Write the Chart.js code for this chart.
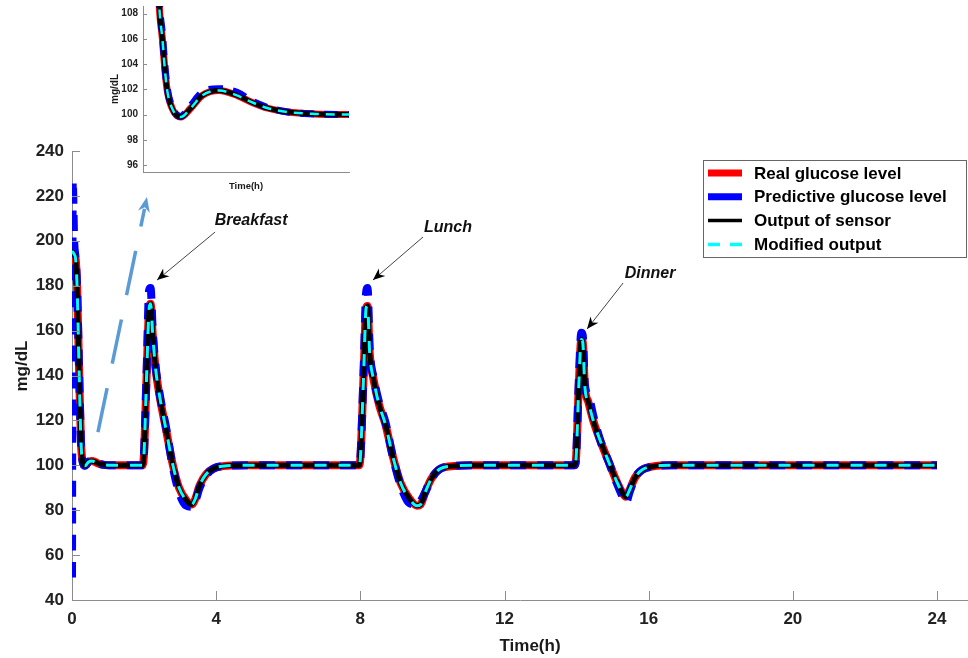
<!DOCTYPE html>
<html>
<head>
<meta charset="utf-8">
<script src="https://cdn.jsdelivr.net/npm/chart.js@4.4.0/dist/chart.umd.min.js"></script>
<style>
    body { margin: 0; background: #fff; }
    #wrap { position: relative; width: 968px; height: 658px; overflow: hidden; }
    #mainChart { position: absolute; left: 0; top: 0; }
    #insetChart { position: absolute; left: 100px; top: -5px; }
</style>
</head>
<body>
<div id="wrap">
    <canvas id="mainChart" width="968" height="658"></canvas>
    <canvas id="insetChart" width="260" height="200"></canvas>
</div>
<script>
// ---- main chart data (time in hours, glucose in mg/dL) ----
const time = [
    0, 0.02, 0.06, 0.1, 0.14, 0.2, 0.25, 0.29, 0.33, 0.36, 0.41, 0.46, 0.55, 0.64, 0.7, 0.79, 0.89, 1.02, 1.3, 1.96,
    2.0, 2.07, 2.14, 2.18, 2.24, 2.32, 2.44, 2.62, 2.8, 2.97, 3.17, 3.32, 3.42, 3.54, 3.72, 3.92, 4.3, 4.9,
    7.96, 8.0, 8.09, 8.16, 8.2, 8.26, 8.37, 8.52, 8.7, 8.9, 9.12, 9.37, 9.57, 9.67, 9.8, 9.97, 10.22, 10.62, 11.1,
    13.94, 13.98, 14.06, 14.13, 14.17, 14.23, 14.33, 14.48, 14.68, 14.88, 15.08, 15.28, 15.37, 15.47, 15.62, 15.82, 16.12, 16.62, 24
];
const realLevel = [
    195, 195, 194, 192, 180, 140, 110, 102, 100, 99.8, 100.5, 101.5, 101.9, 101.5, 101, 100.5, 100.2, 100.05, 100, 100,
    106, 140, 170, 172, 158, 143, 130, 115, 100, 90, 84.5, 82.5, 85, 91, 96, 98.5, 99.8, 100,
    100, 103, 140, 170, 171, 150, 138, 127, 118, 104, 92, 85, 82, 82.5, 88, 94, 98.5, 99.7, 100,
    100, 102, 135, 156, 155, 135, 128, 119, 110, 102, 94, 87.5, 86, 89, 94.5, 98, 99.5, 100, 100
];
const predictive = [
    50, 227, 200, 192, 180, 140, 110, 102, 100, 99.8, 100.6, 101.7, 102.1, 101.7, 101.1, 100.5, 100.2, 100.05, 100, 100,
    106, 142, 178, 179, 160, 144, 131, 116, 99, 88, 82, 81.5, 84, 90, 95.5, 98.5, 99.8, 100,
    100, 103, 142, 177, 179, 152, 139, 128, 119, 104, 91, 83, 82.5, 84, 88, 94, 98.5, 99.7, 100,
    100, 102, 137, 159, 158, 136, 131, 121, 110, 102, 93.5, 86, 83.5, 88, 94.5, 98, 99.5, 100, 100
];
const sensor = [
    195, 195, 194, 192, 180, 140, 110, 102, 100, 99.8, 100.5, 101.5, 101.9, 101.5, 101, 100.5, 100.2, 100.05, 100, 100,
    106, 140, 170, 172, 158, 143, 130, 115, 100, 90, 84.5, 82.5, 85, 91, 96, 98.5, 99.8, 100,
    100, 103, 140, 170, 171, 150, 138, 127, 118, 104, 92, 85, 82, 82.5, 88, 94, 98.5, 99.7, 100,
    100, 102, 135, 156, 155, 135, 128, 119, 110, 102, 94, 87.5, 86, 89, 94.5, 98, 99.5, 100, 100
];
const modified = [
    195, 195, 194, 192, 180, 140, 110, 102, 100, 99.8, 100.5, 101.5, 101.9, 101.5, 101, 100.5, 100.2, 100.05, 100, 100,
    106, 140, 170, 172, 158, 143, 130, 115, 100, 90, 84.5, 82.5, 85, 91, 96, 98.5, 99.8, 100,
    100, 103, 140, 170, 171, 150, 138, 127, 118, 104, 92, 85, 82, 82.5, 88, 94, 98.5, 99.7, 100,
    100, 102, 135, 156, 155, 135, 128, 119, 110, 102, 94, 87.5, 86, 89, 94.5, 98, 99.5, 100, 100
];
const xTicks = [0, 4, 8, 12, 16, 20, 24];
const yTicks = [40, 60, 80, 100, 120, 140, 160, 180, 200, 220, 240];

// ---- inset (zoom on the first hour) ----
const insetTime = [0.2, 0.24, 0.253, 0.266, 0.276, 0.289, 0.314, 0.356, 0.406, 0.462, 0.546, 0.638, 0.705, 0.789, 0.888, 1.02, 1.19];
const insetReal = [140, 112, 108, 106, 104, 102, 100.5, 99.8, 100.5, 101.5, 101.9, 101.5, 101, 100.5, 100.2, 100.05, 100];
const insetPred = [140, 112.5, 108.4, 106.4, 104.3, 102.2, 100.6, 99.85, 100.7, 101.75, 102.05, 101.75, 101.1, 100.55, 100.2, 100.05, 100];
const insetSensor = [140, 112, 108, 106, 104, 102, 100.5, 99.8, 100.5, 101.5, 101.9, 101.5, 101, 100.5, 100.2, 100.05, 100];
const insetModified = [140, 112, 108, 106, 104, 102, 100.5, 99.8, 100.5, 101.5, 101.9, 101.5, 101, 100.5, 100.2, 100.05, 100];
const insetYTicks = [96, 98, 100, 102, 104, 106, 108];

const FONT = '"Liberation Sans", Arial, sans-serif';
const pts = (xs, ys) => xs.map((t, i) => ({ x: t, y: ys[i] }));

function arrowHead(ctx, x1, y1, x2, y2, len, half, color) {
    const a = Math.atan2(y2 - y1, x2 - x1);
    ctx.save();
    ctx.translate(x2, y2);
    ctx.rotate(a);
    ctx.beginPath();
    ctx.moveTo(0, 0);
    ctx.lineTo(-len, -half);
    ctx.lineTo(-len * 0.7, 0);
    ctx.lineTo(-len, half);
    ctx.closePath();
    ctx.fillStyle = color;
    ctx.fill();
    ctx.restore();
}

// meal labels + arrows (data coordinates)
const meals = [
    { text: 'Breakfast', tx: 4.97, ty: 208.8, ax: 3.97, ay: 203.9, hx: 2.36, hy: 182.5 },
    { text: 'Lunch', tx: 10.43, ty: 205.9, ax: 9.74, ay: 201.7, hx: 8.35, hy: 182.5 },
    { text: 'Dinner', tx: 16.04, ty: 185.2, ax: 15.29, ay: 181.2, hx: 14.29, hy: 160.7 }
];

const mainOverlay = {
    id: 'mainOverlay',
    afterDraw(chart) {
        const { ctx, chartArea: area, scales: { x, y } } = chart;
        ctx.save();

        // inward tick marks
        ctx.strokeStyle = '#8c8c8c';
        ctx.lineWidth = 1;
        ctx.beginPath();
        y.ticks.forEach(t => {
            const py = Math.round(y.getPixelForValue(t.value)) + 0.5;
            ctx.moveTo(area.left, py);
            ctx.lineTo(area.left + 8, py);
        });
        x.ticks.forEach(t => {
            const px = Math.round(x.getPixelForValue(t.value)) + 0.5;
            ctx.moveTo(px, area.bottom);
            ctx.lineTo(px, area.bottom - 9);
        });
        ctx.stroke();

        // axis titles
        ctx.fillStyle = '#1a1a1a';
        ctx.font = 'bold 17px ' + FONT;
        ctx.textAlign = 'center';
        ctx.textBaseline = 'middle';
        ctx.fillText('Time(h)', (area.left + area.right) / 2 + 10, 646);
        ctx.save();
        ctx.translate(22, 366);
        ctx.rotate(-Math.PI / 2);
        ctx.fillText('mg/dL', 0, 0);
        ctx.restore();

        // dashed pointer to the inset
        const bx1 = x.getPixelForValue(0.72), by1 = y.getPixelForValue(114.8);
        const bx2 = x.getPixelForValue(2.08), by2 = y.getPixelForValue(219.5);
        ctx.strokeStyle = '#5b9bd5';
        ctx.lineWidth = 3.5;
        ctx.setLineDash([45, 25]);
        ctx.beginPath();
        ctx.moveTo(bx1, by1);
        ctx.lineTo(bx2 - (bx2 - bx1) * 0.05, by2 - (by2 - by1) * 0.05);
        ctx.stroke();
        ctx.setLineDash([]);
        arrowHead(ctx, bx1, by1, bx2, by2, 15, 6, '#5b9bd5');

        // meal annotations
        ctx.font = 'italic bold 16px ' + FONT;
        meals.forEach(m => {
            const tx = x.getPixelForValue(m.tx), ty = y.getPixelForValue(m.ty);
            const ax = x.getPixelForValue(m.ax), ay = y.getPixelForValue(m.ay);
            const hx = x.getPixelForValue(m.hx), hy = y.getPixelForValue(m.hy);
            ctx.fillStyle = '#111';
            ctx.fillText(m.text, tx, ty);
            ctx.strokeStyle = '#444';
            ctx.lineWidth = 1;
            ctx.beginPath();
            ctx.moveTo(ax, ay);
            ctx.lineTo(hx, hy);
            ctx.stroke();
            arrowHead(ctx, ax, ay, hx, hy, 12, 5, '#000');
        });

        // legend box
        const lx = 703, ly = 160, lw = 263, lh = 97;
        ctx.fillStyle = '#fff';
        ctx.fillRect(lx, ly, lw, lh);
        ctx.strokeStyle = '#666';
        ctx.lineWidth = 1;
        ctx.strokeRect(lx + 0.5, ly + 0.5, lw, lh);
        ctx.font = 'bold 17px ' + FONT;
        ctx.textAlign = 'left';
        chart.data.datasets.forEach((ds, i) => {
            const yy = ly + 13 + i * 23.8;
            ctx.strokeStyle = ds.borderColor;
            ctx.lineWidth = ds.legendWidth;
            ctx.setLineDash(ds.legendDash || []);
            ctx.beginPath();
            ctx.moveTo(lx + 5, yy);
            ctx.lineTo(lx + 39, yy);
            ctx.stroke();
            ctx.setLineDash([]);
            ctx.fillStyle = '#000';
            ctx.fillText(ds.label, lx + 51, yy + 1);
        });
        ctx.restore();
    }
};

const tickFont = { family: FONT, size: 17, weight: 'bold' };

new Chart(document.getElementById('mainChart'), {
    type: 'line',
    data: {
        datasets: [
            { label: 'Real glucose level', data: pts(time, realLevel), borderColor: '#ff0000', borderWidth: 8, order: 4, legendWidth: 7 },
            { label: 'Predictive glucose level', data: pts(time, predictive), borderColor: '#0000ff', borderWidth: 8, borderDash: [16, 11], borderJoinStyle: 'bevel', order: 3, legendWidth: 7 },
            { label: 'Output of sensor', data: pts(time, sensor), borderColor: '#000000', borderWidth: 5, order: 2, legendWidth: 3.5 },
            { label: 'Modified output', data: pts(time, modified), borderColor: '#00ffff', borderWidth: 3, borderDash: [12, 12], order: 1, legendWidth: 3.5, legendDash: [12, 10] }
        ]
    },
    options: {
        responsive: false,
        animation: false,
        devicePixelRatio: 1,
        layout: { padding: { top: 151, right: 0, left: 0, bottom: 0 } },
        elements: {
            point: { radius: 0 },
            line: { cubicInterpolationMode: 'monotone', borderJoinStyle: 'round', fill: false }
        },
        plugins: { legend: { display: false }, tooltip: { enabled: false } },
        scales: {
            x: {
                type: 'linear', min: 0, max: 24.86,
                afterBuildTicks: s => { s.ticks = xTicks.map(v => ({ value: v })); },
                afterFit: s => { s.height = 58; },
                grid: { display: false, drawTicks: false },
                border: { display: true, color: '#8c8c8c', width: 1 },
                ticks: { font: tickFont, color: '#222', padding: 9, maxRotation: 0, autoSkip: false }
            },
            y: {
                type: 'linear', min: 40, max: 240,
                afterBuildTicks: s => { s.ticks = yTicks.map(v => ({ value: v })); },
                afterFit: s => { s.width = 72; },
                grid: { display: false, drawTicks: false },
                border: { display: true, color: '#8c8c8c', width: 1 },
                ticks: { font: tickFont, color: '#222', padding: 8, autoSkip: false }
            }
        }
    },
    plugins: [mainOverlay]
});

// ---- inset ----
const insetOverlay = {
    id: 'insetOverlay',
    afterDraw(chart) {
        const { ctx, chartArea: area, scales: { y } } = chart;
        ctx.save();
        ctx.strokeStyle = '#8c8c8c';
        ctx.lineWidth = 1;
        ctx.beginPath();
        y.ticks.forEach(t => {
            const py = Math.round(y.getPixelForValue(t.value)) + 0.5;
            ctx.moveTo(area.left, py);
            ctx.lineTo(area.left + 4, py);
        });
        ctx.stroke();
        ctx.fillStyle = '#1a1a1a';
        ctx.textAlign = 'center';
        ctx.textBaseline = 'middle';
        ctx.font = 'bold 9.5px ' + FONT;
        ctx.fillText('Time(h)', (area.left + area.right) / 2, area.bottom + 14);
        ctx.font = 'bold 10px ' + FONT;
        ctx.save();
        ctx.translate(15, (area.top + area.bottom) / 2);
        ctx.rotate(-Math.PI / 2);
        ctx.fillText('mg/dL', 0, 0);
        ctx.restore();
        ctx.restore();
    }
};

new Chart(document.getElementById('insetChart'), {
    type: 'line',
    data: {
        datasets: [
            { data: pts(insetTime, insetReal), borderColor: '#ff0000', borderWidth: 7, order: 4 },
            { data: pts(insetTime, insetPred), borderColor: '#0000ff', borderWidth: 7, borderDash: [14, 10], order: 3 },
            { data: pts(insetTime, insetSensor), borderColor: '#000000', borderWidth: 5, order: 2 },
            { data: pts(insetTime, insetModified), borderColor: '#00ffff', borderWidth: 2.5, borderDash: [9, 7], order: 1 }
        ]
    },
    options: {
        responsive: false,
        animation: false,
        devicePixelRatio: 1,
        layout: { padding: { top: 5, right: 11, left: 0, bottom: 0 } },
        elements: {
            point: { radius: 0 },
            line: { cubicInterpolationMode: 'monotone', borderJoinStyle: 'round', fill: false }
        },
        plugins: { legend: { display: false }, tooltip: { enabled: false } },
        scales: {
            x: {
                type: 'linear', min: 0.17, max: 1.19,
                afterFit: s => { s.height = 23; },
                grid: { display: false, drawTicks: false },
                border: { display: true, color: '#8c8c8c', width: 1 },
                ticks: { display: false }
            },
            y: {
                type: 'linear', min: 95.45, max: 108.6,
                afterBuildTicks: s => { s.ticks = insetYTicks.map(v => ({ value: v })); },
                afterFit: s => { s.width = 43; },
                grid: { display: false, drawTicks: false },
                border: { display: true, color: '#8c8c8c', width: 1 },
                ticks: { font: { family: FONT, size: 10, weight: 'bold' }, color: '#222', padding: 5, autoSkip: false }
            }
        }
    },
    plugins: [insetOverlay]
});
</script>
</body>
</html>
